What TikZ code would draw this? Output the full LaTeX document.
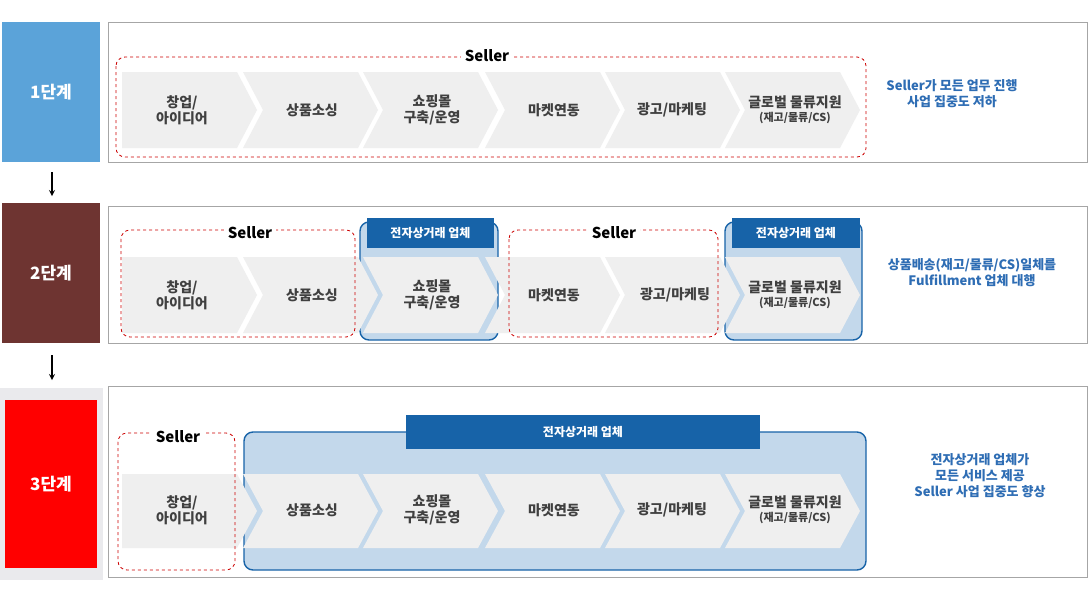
\documentclass[tikz,border=0pt]{standalone}
\usepackage{fontspec}
\setmainfont{Noto Sans CJK KR}
\usetikzlibrary{positioning}
\definecolor{stageA}{HTML}{5BA3D9}
\definecolor{stageB}{HTML}{6E3431}
\definecolor{stageC}{HTML}{FF0000}
\definecolor{chevgray}{HTML}{EFEFEF}
\definecolor{ecblue}{HTML}{1763A8}
\definecolor{eclight}{HTML}{C3D8EB}
\definecolor{txtblue}{HTML}{2E6DB4}
\newcommand{\subfont}{\bfseries\fontsize{11}{13}\selectfont}
\tikzset{>=stealth}
\tikzset{
  stagebox/.style={text=white, font=\bfseries\fontsize{17}{20}\selectfont},
  panel/.style={draw=gray!70, fill=white},
  chevtext/.style={text=black!75, font=\bfseries\fontsize{14}{16}\selectfont, align=center},
  sellerbox/.style={draw=red!80!black, dashed, thick, rounded corners=9pt},
  sellertitle/.style={fill=white, font=\bfseries\fontsize{15}{17}\selectfont, inner sep=4pt},
  ecbox/.style={draw=ecblue, fill=eclight, line width=1.4pt, rounded corners=9pt},
  echead/.style={fill=ecblue, text=white, font=\bfseries\fontsize{12}{14}\selectfont},
  notetext/.style={text=txtblue, font=\bfseries\fontsize{13}{16}\selectfont, align=center},
  downarrow/.style={->, line width=1.6pt}
}
% chevron: #1 left x, #2 top y, #3 bottom y, #4 fill, #5 first?
\newcommand{\chevron}[5]{%
  \fill[#4] (#1,#2) -- ({#1+115},#2) -- ({#1+135},{(#2+#3)/2}) -- ({#1+115},#3) -- (#1,#3)
    \ifnum#5=0 -- ({#1+20},{(#2+#3)/2}) \fi -- cycle;}
\begin{document}
\begin{tikzpicture}[x=1pt,y=-1pt]
\useasboundingbox (0,0) rectangle (1092,589);

% ---- stage 1
\fill[stageA] (2,22) rectangle (100,162);
\node[stagebox] (s1) at (51,92) {1단계};
\draw[panel] (108,22) rectangle (1087,162);
\foreach \i/\x in {0/122,1/243,2/363,3/485,4/605,5/725}{
  \pgfmathtruncatemacro{\first}{\i==0 ? 1 : 0}
  \chevron{\x}{72}{148}{chevgray}{\first}
}
\draw[sellerbox] (116,57) rectangle (866,157);
\node[sellertitle] (sel1) at (487,56) {Seller};
\node[chevtext] (a1) at (182,110) {창업/\\아이디어};
\node[chevtext] (a2) at (312,110) {상품소싱};
\node[chevtext] (a3) at (432,110) {쇼핑몰\\구축/운영};
\node[chevtext] (a4) at (554,110) {마켓연동};
\node[chevtext] (a5) at (672,110) {광고/마케팅};
\node[chevtext] (a6) at (795,110) {글로벌 물류지원\\[-2pt]{\subfont(재고/물류/CS)}};
\node[notetext] (n1) at (952,94) {Seller가 모든 업무 진행\\사업 집중도 저하};

% ---- arrow
\coordinate (d1a) at (52,172);
\coordinate (d1b) at (52,196);
\draw[downarrow] (d1a) -- (d1b);

% ---- stage 2
\fill[stageB] (2,203) rectangle (100,343);
\node[stagebox] (s2) at (51,273) {2단계};
\draw[panel] (108,206) rectangle (1087,343);
\draw[ecbox] (360,222) rectangle (498,340);
\draw[ecbox] (725,222) rectangle (862,340);
\foreach \i/\x in {0/122,1/243,2/363,3/485,4/605,5/725}{
  \pgfmathtruncatemacro{\first}{\i==0 ? 1 : 0}
  \chevron{\x}{257}{333}{chevgray}{\first}
}
\fill[echead] (367,218) rectangle (494,248);
\node[echead] (e2a) at (430.5,233) {전자상거래 업체};
\fill[echead] (732,218) rectangle (860,248);
\node[echead] (e2b) at (796,233) {전자상거래 업체};
\draw[sellerbox] (121,230) rectangle (355,337);
\node[sellertitle] (sel2a) at (250,233) {Seller};
\draw[sellerbox] (509,230) rectangle (718,337);
\node[sellertitle] (sel2b) at (614,233) {Seller};
\node[chevtext] (b1) at (182,295) {창업/\\아이디어};
\node[chevtext] (b2) at (312,295) {상품소싱};
\node[chevtext] (b3) at (432,295) {쇼핑몰\\구축/운영};
\node[chevtext] (b4) at (554,295) {마켓연동};
\node[chevtext] (b5) at (675,295) {광고/마케팅};
\node[chevtext] (b6) at (795,295) {글로벌 물류지원\\[-2pt]{\subfont(재고/물류/CS)}};
\node[notetext] (n2) at (972,273) {상품배송(재고/물류/CS)일체를\\Fulfillment 업체 대행};

% ---- arrow
\coordinate (d2a) at (52,355);
\coordinate (d2b) at (52,380);
\draw[downarrow] (d2a) -- (d2b);

% ---- stage 3
\fill[blue!8!gray!15] (0,388) rectangle (103,580);
\fill[stageC] (5,400) rectangle (97,568);
\node[stagebox] (s3) at (51,484) {3단계};
\draw[panel] (108,386) rectangle (1087,577);
\draw[ecbox] (244,432) rectangle (866,570);
\foreach \i/\x in {0/122,1/243,2/363,3/485,4/605,5/725}{
  \pgfmathtruncatemacro{\first}{\i==0 ? 1 : 0}
  \chevron{\x}{474}{548}{chevgray}{\first}
}
\fill[echead] (406,415) rectangle (760,449);
\node[echead] (e3) at (583,432) {전자상거래 업체};
\draw[sellerbox] (118,433) rectangle (235,570);
\node[sellertitle] (sel3) at (178,437) {Seller};
\node[chevtext] (c1) at (182,510) {창업/\\아이디어};
\node[chevtext] (c2) at (312,510) {상품소싱};
\node[chevtext] (c3) at (432,510) {쇼핑몰\\구축/운영};
\node[chevtext] (c4) at (554,510) {마켓연동};
\node[chevtext] (c5) at (672,510) {광고/마케팅};
\node[chevtext] (c6) at (795,510) {글로벌 물류지원\\[-2pt]{\subfont(재고/물류/CS)}};
\node[notetext] (n3) at (980,476) {전자상거래 업체가\\모든 서비스 제공\\Seller 사업 집중도 향상};
\end{tikzpicture}
\end{document}
